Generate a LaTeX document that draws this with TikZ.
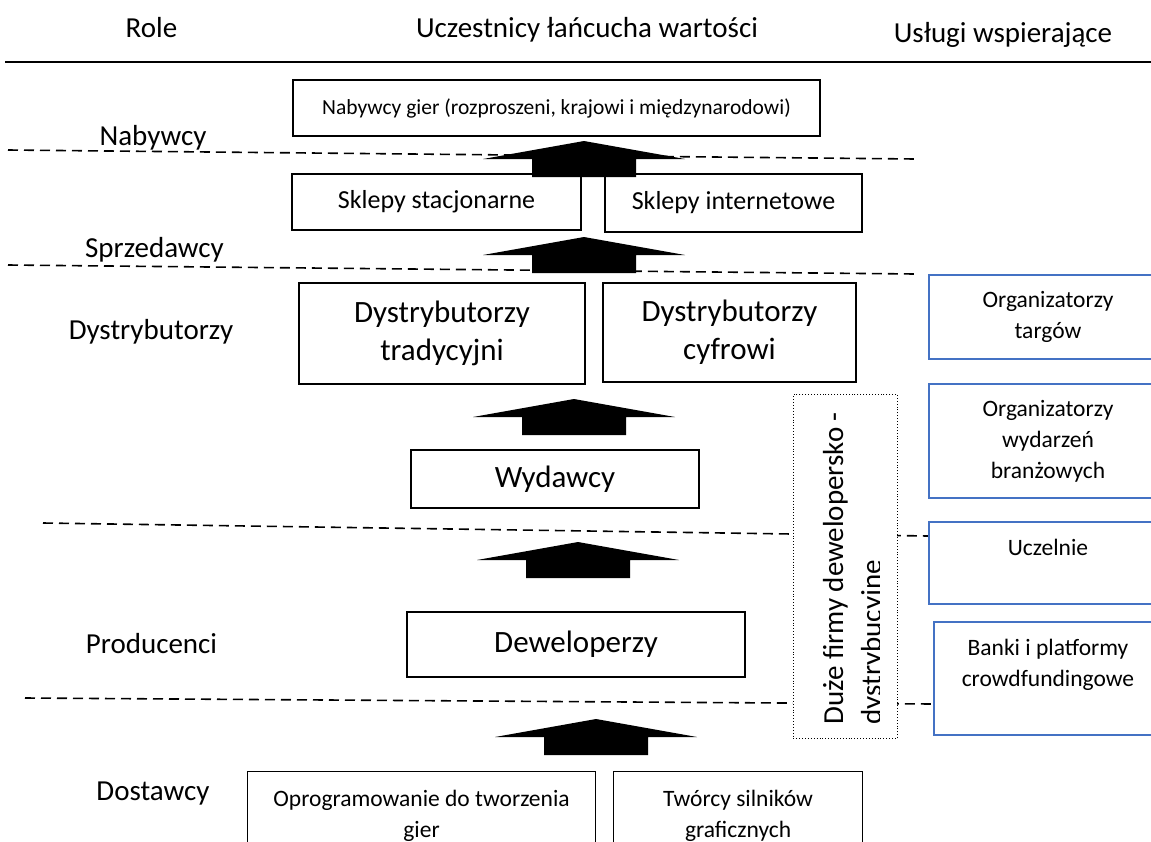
\documentclass[tikz,border=0pt]{standalone}
\usepackage{fontspec}
\setmainfont{Carlito}
\usetikzlibrary{calc}
\definecolor{officeblue}{HTML}{4472C4}
\newcommand{\txtHead}{\fontsize{29}{34}\selectfont}
\newcommand{\txtBig}{\fontsize{31}{38}\selectfont}
\newcommand{\txtMid}{\fontsize{26}{31}\selectfont}
\newcommand{\txtSvc}{\fontsize{23.5}{31}\selectfont}
\newcommand{\txtSmall}{\fontsize{21.5}{26}\selectfont}

\tikzset{
    headtext/.style={anchor=base, inner sep=0pt, font=\txtHead},
    rolelabel/.style={anchor=base, inner sep=0pt, font=\txtHead},
    chainbox/.style={draw=black, line width=1.1pt, fill=white, align=center, inner sep=0pt},
    servicebox/.style={draw=officeblue, line width=2pt, align=center, inner sep=0pt,
        minimum width=238, anchor=north west, font=\txtSvc},
    levelline/.style={line width=1.6pt, dash pattern=on 10pt off 6pt}
}

\begin{document}
\begin{tikzpicture}[x=1pt, y=-1pt]
    \useasboundingbox (0,0) rectangle (1151,841);

    % Column headings
    \node[headtext] (hRole) at (151.5,37) {Role};
    \node[headtext] (hChain) at (587,37) {Uczestnicy łańcucha wartości};
    \node[headtext] (hSupport) at (1003,42) {Usługi wspierające};
    \draw[line width=1.3pt] (5,62) -- (1151,62);

    % Level separators
    \draw[levelline] (8,150) -- (915,159);
    \draw[levelline] (8,265) -- (915,274);
    \draw[levelline] (43,523) -- (928,536);
    \draw[levelline] (25,698) -- (933,704);

    % Roles
    \node[rolelabel] (rBuyers) at (153,145) {Nabywcy};
    \node[rolelabel] (rSellers) at (154.5,257) {Sprzedawcy};
    \node[rolelabel] (rDistr) at (151,339) {Dystrybutorzy};
    \node[rolelabel] (rProd) at (151.5,653) {Producenci};
    \node[rolelabel] (rSupp) at (153,800) {Dostawcy};

    % Value chain participants
    \node[chainbox, minimum width=527, minimum height=56, font=\txtSmall] (buyers) at (556.5,108) {Nabywcy gier (rozproszeni, krajowi i międzynarodowi)};
    \node[chainbox, minimum width=289, minimum height=56, font=\txtMid] (shopsOff) at (436.5,202) {Sklepy stacjonarne};
    \node[chainbox, minimum width=257, minimum height=58, font=\txtMid] (shopsOn) at (733.5,203) {Sklepy internetowe};
    \node[chainbox, minimum width=286, minimum height=101, font=\txtBig] (distTrad) at (442,333.5) {Dystrybutorzy\\tradycyjni};
    \node[chainbox, minimum width=253, minimum height=99, font=\txtBig] (distDig) at (729.5,332.5) {Dystrybutorzy\\cyfrowi};
    \node[chainbox, minimum width=288, minimum height=58, font=\txtBig] (publishers) at (555,479) {Wydawcy};
    \node[chainbox, minimum width=338, minimum height=65, font=\txtBig] (developers) at (576,644.5) {Deweloperzy};
    \node[chainbox, anchor=north west, minimum width=348, minimum height=88, font=\txtSvc] (tools) at (247,771) {Oprogramowanie do tworzenia\\gier};
    \node[chainbox, anchor=north west, minimum width=249, minimum height=88, font=\txtSvc] (engines) at (613,771) {Twórcy silników\\graficznych};

    % Supporting services
    \node[servicebox, minimum height=84] (fairs) at (928,274) {Organizatorzy\\targów};
    \node[servicebox, minimum height=114] (events) at (928,383) {Organizatorzy\\wydarzeń\\branżowych};
    \node[servicebox, minimum height=82] (unis) at (928,521) {Uczelnie\\\phantom{X}};
    \node[servicebox, minimum width=228, minimum height=113] (banks) at (933,621) {Banki i platformy\\crowdfundingowe\\\phantom{X}};

    % Big developer-publisher firms (text overflows the box)
    \node[draw, dotted, line width=0.9pt, fill=white, anchor=north west, inner sep=0pt,
        minimum width=104, minimum height=344] (bigFirms) at (793,394) {};
    \begin{scope}
        \clip (793,394) rectangle (879,738);
        \node[rotate=90, anchor=base west, inner sep=0pt, font=\txtHead] (bigFirmsA) at (843,725) {Duże firmy dewelopersko -};
        \node[rotate=90, anchor=base west, inner sep=0pt, font=\txtHead] (bigFirmsB) at (881,725) {dystrybucyjne};
    \end{scope}

    % Block arrows (tip positions)
    \foreach \tx/\ty in {584/141, 584/237, 574/399, 578/542, 596/719}
        \fill (\tx,\ty) -- ++(101,18) -- ++(-49,0) -- ++(0,18) -- ++(-104,0) -- ++(0,-18) -- ++(-49,0) -- cycle;

\end{tikzpicture}
\end{document}
